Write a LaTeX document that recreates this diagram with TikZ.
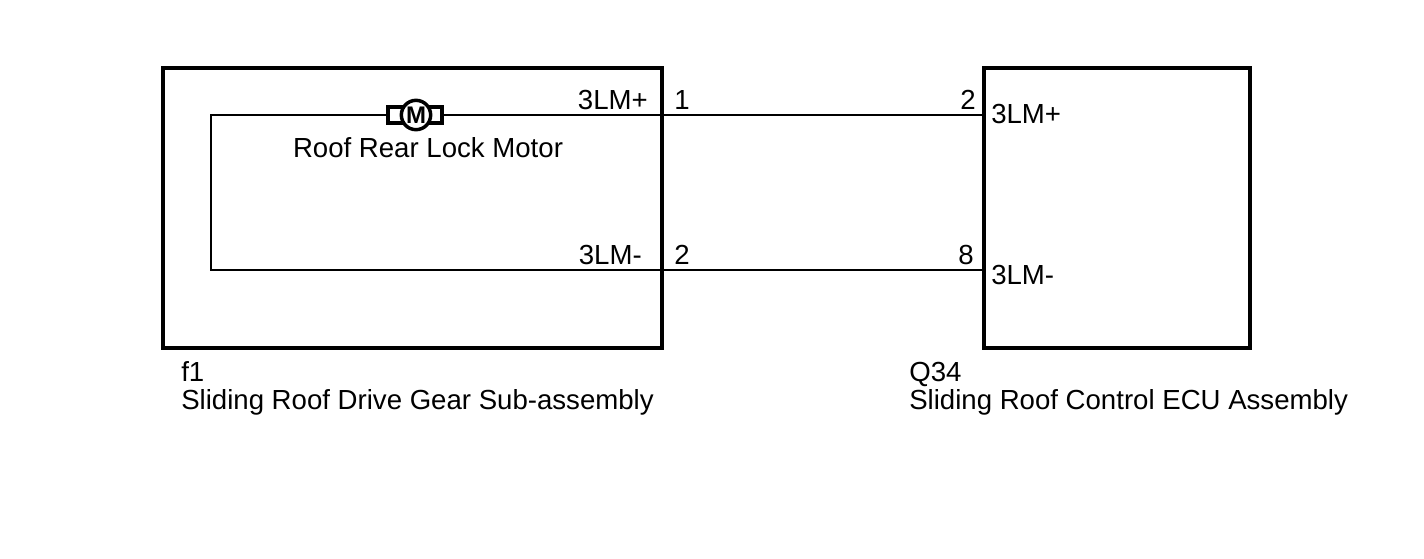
\documentclass[tikz,border=0pt]{standalone}
\usepackage{fontspec}
\setmainfont{Liberation Sans}
\begin{document}
\begin{tikzpicture}[x=0.75pt,y=-0.75pt,
  box/.style={draw,line width=2.3pt},
  wire/.style={line width=1.2pt},
  lbl/.style={inner sep=0pt,font=\fontsize{20.7}{24}\selectfont}]
\useasboundingbox (0,0) rectangle (1424,558);
\draw[box] (163,68) rectangle (662,348);
\draw[box] (984,68) rectangle (1250,348);
\coordinate (tl) at (211,115);
\coordinate (bl) at (211,270);
\coordinate (tr) at (984,115);
\coordinate (br) at (984,270);
\draw[wire] (tr) -- (tl) -- (bl) -- (br);
% motor
\draw[line width=2.6pt,fill=white] (388,107) rectangle (442,123);
\node[circle,draw,line width=2.6pt,fill=white,minimum size=22pt,inner sep=0pt,font=\fontsize{18}{20}\selectfont\bfseries] (m) at (416,115) {M};
\node[lbl,anchor=north] (rl) at (428,137) {Roof Rear Lock Motor};
\node[lbl,anchor=base east] (a1) at (648,109) {3LM+};
\node[lbl,anchor=base west] (p1) at (674,109) {1};
\node[lbl,anchor=base east] (a2) at (642,264) {3LM-};
\node[lbl,anchor=base west] (p2) at (674,264) {2};
\node[lbl,anchor=base east] (q2) at (976,109) {2};
\node[lbl,anchor=base west] (b1) at (991,123) {3LM+};
\node[lbl,anchor=base west] (q8) at (958,264) {8};
\node[lbl,anchor=base west] (b2) at (991,284) {3LM-};
\node[lbl,anchor=base west] (f1) at (181,381) {f1};
\node[lbl,anchor=base west] (f1n) at (181,409) {Sliding Roof Drive Gear Sub-assembly};
\node[lbl,anchor=base west] (q34) at (909,381) {Q34};
\node[lbl,anchor=base west] (q34n) at (909,409) {Sliding Roof Control ECU Assembly};
\end{tikzpicture}
\end{document}
